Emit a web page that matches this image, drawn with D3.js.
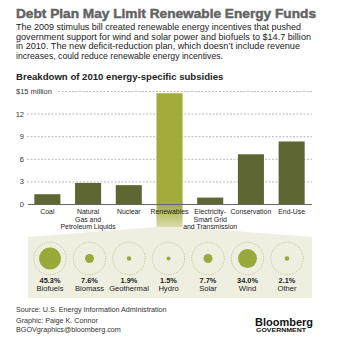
<!DOCTYPE html>
<html>
<head>
<meta charset="utf-8">
<script src="https://cdn.jsdelivr.net/npm/d3@7"></script>
<style>
  body { margin: 0; background: #fff; }
  svg { display: block; font-family: "Liberation Sans", Arial, sans-serif; }
</style>
</head>
<body>
<svg id="chart" width="344" height="339"></svg>
<script>
// Breakdown of 2010 energy-specific subsidies
const categories = [
  ['Coal'],
  ['Natural', 'Gas and', 'Petroleum Liquids'],
  ['Nuclear'],
  ['Renewables'],
  ['Electricity-', 'Smart Grid', 'and Transmission'],
  ['Conservation'],
  ['End-Use']
];
const subsidies = [1.3, 2.8, 2.5, 14.7, 0.85, 6.6, 8.3];
const yTicks = [0, 3, 6, 9, 12, 15];

// Renewables split
const renewTypes = ['Biofuels', 'Biomass', 'Geothermal', 'Hydro', 'Solar', 'Wind', 'Other'];
const renewShares = [45.3, 7.6, 1.9, 1.5, 7.7, 34.0, 2.1];

const bodyLines = [
  'The 2009 stimulus bill created renewable energy incentives that pushed',
  'government support for wind and solar power and biofuels to $14.7 billion',
  'in 2010. The new deficit-reduction plan, which doesn\u2019t include revenue',
  'increases, could reduce renewable energy incentives.'
];

const svg = d3.select('#chart');
const dark = '#5e6631', light = '#a2ac3b', beige = '#efefe1';

// Title + intro
svg.append('text')
  .attr('x', 16).attr('y', 17.5)
  .attr('fill', '#636363').attr('stroke', '#636363').attr('stroke-width', 0.45)
  .style('font-size', '13px').style('font-weight', 'bold')
  .attr('textLength', 300).attr('lengthAdjust', 'spacingAndGlyphs')
  .text('Debt Plan May Limit Renewable Energy Funds');

svg.append('g').selectAll('text')
  .data(bodyLines)
  .join('text')
  .attr('x', 16)
  .attr('y', (d, i) => 30 + i * 9.6)
  .attr('fill', '#222')
  .style('font-size', '9.3px')
  .attr('textLength', (d, i) => [285, 295, 284, 207][i])
  .attr('lengthAdjust', 'spacingAndGlyphs')
  .text(d => d);

svg.append('text')
  .attr('x', 16).attr('y', 80)
  .attr('fill', '#222')
  .style('font-size', '9.6px').style('font-weight', 'bold')
  .text('Breakdown of 2010 energy-specific subsidies');

// Scales
const x = d3.scaleBand()
  .domain(d3.range(categories.length))
  .range([27, 312])
  .paddingInner(0.36)
  .paddingOuter(0.18);

const y = d3.scaleLinear()
  .domain([0, 15])
  .range([204, 91]);

// Callout panel behind the renewables bar
const rx = x(3), rw = x.bandwidth();
const panelTop = 237, neck = 227;
const grad = svg.append('defs').append('linearGradient')
  .attr('id', 'fade').attr('x1', 0).attr('x2', 0).attr('y1', 0).attr('y2', 1);
grad.append('stop').attr('offset', '0%').attr('stop-color', light);
grad.append('stop').attr('offset', '100%').attr('stop-color', '#d9dcae');

svg.append('path')
  .attr('fill', beige)
  .attr('d', d3.line()([
    [rx, neck], [rx + rw, neck], [312, panelTop], [312, 298],
    [28, 298], [28, panelTop]
  ]) + 'Z');

svg.append('rect')
  .attr('x', rx).attr('width', rw)
  .attr('y', y(0)).attr('height', neck - y(0))
  .attr('fill', 'url(#fade)');

// Grid + y axis
const yAxis = svg.append('g')
  .attr('transform', 'translate(27,0)')
  .call(d3.axisLeft(y).tickValues(yTicks).tickSize(-285).tickPadding(3)
    .tickFormat(d => d === 15 ? '$15 million' : d));
yAxis.select('.domain').remove();
yAxis.selectAll('line')
  .attr('stroke', '#bbb')
  .attr('stroke-dasharray', '2,1.5');
yAxis.selectAll('text')
  .attr('fill', '#333')
  .style('font-size', '7.5px')
  .style('font-family', '"Liberation Sans", Arial, sans-serif');
const topTick = yAxis.selectAll('.tick').filter(d => d === 15);
topTick.select('text').attr('text-anchor', 'start').attr('x', -11);
topTick.select('line').attr('x1', 31);

// Bars
svg.append('g').selectAll('rect')
  .data(subsidies)
  .join('rect')
  .attr('x', (d, i) => x(i))
  .attr('width', x.bandwidth())
  .attr('y', d => y(d))
  .attr('height', d => y(0) - y(d))
  .attr('fill', (d, i) => i === 3 ? light : dark);

// Baseline
yAxis.selectAll('.tick').filter(d => d === 0).select('line').remove();
svg.append('line')
  .attr('x1', 28).attr('x2', 312)
  .attr('y1', y(0) + 0.5).attr('y2', y(0) + 0.5)
  .attr('stroke', '#666');

// Category labels
const catG = svg.append('g').selectAll('text')
  .data(categories)
  .join('text')
  .attr('text-anchor', 'middle')
  .attr('fill', '#222')
  .style('font-size', '6.9px');
catG.selectAll('tspan')
  .data((d, i) => d.map(t => ({ t, i })))
  .join('tspan')
  .attr('x', d => x(d.i) + x.bandwidth() / 2)
  .attr('y', (d, j) => 213.9 + j * 7.7)
  .text(d => d.t);

// Renewables breakdown circles
const cx = d3.scalePoint()
  .domain(renewTypes)
  .range([50, 287]);
const r = d3.scaleSqrt().domain([0, 100]).range([0, 16.2]);
const cy = 258.5;

const cells = svg.append('g').selectAll('g')
  .data(renewTypes)
  .join('g')
  .attr('transform', d => `translate(${cx(d)},${cy})`);

cells.append('circle')
  .attr('r', r(100))
  .attr('fill', 'none')
  .attr('stroke', '#b6b983')
  .attr('stroke-width', 0.8)
  .attr('stroke-dasharray', '1.2,1.2');

cells.append('circle')
  .attr('r', (d, i) => r(renewShares[i]))
  .attr('fill', '#9ba83a');

cells.append('text')
  .attr('text-anchor', 'middle')
  .attr('y', 24)
  .attr('fill', '#222')
  .style('font-size', '7.4px').style('font-weight', 'bold')
  .text((d, i) => renewShares[i].toFixed(1) + '%');

cells.append('text')
  .attr('text-anchor', 'middle')
  .attr('y', 32.6)
  .attr('fill', '#222')
  .style('font-size', '7.6px')
  .text(d => d);

// Footer
const foot = [
  ['Source: U.S. Energy Information Administration', 311.5],
  ['Graphic: Paige K. Connor', 323],
  ['BGOVgraphics@bloomberg.com', 332]
];
svg.append('g').selectAll('text')
  .data(foot)
  .join('text')
  .attr('x', 16)
  .attr('y', d => d[1])
  .attr('fill', '#333')
  .style('font-size', '7.2px')
  .text(d => d[0]);

svg.append('text')
  .attr('x', 255).attr('y', 325.5)
  .attr('fill', '#111')
  .style('font-size', '11.2px').style('font-weight', 'bold')
  .attr('textLength', 58).attr('lengthAdjust', 'spacingAndGlyphs')
  .text('Bloomberg');
svg.append('text')
  .attr('x', 256).attr('y', 331.8)
  .attr('fill', '#111')
  .style('font-size', '5.6px').style('font-weight', 'bold')
  .attr('textLength', 50).attr('lengthAdjust', 'spacingAndGlyphs')
  .text('GOVERNMENT');
</script>
</body>
</html>
